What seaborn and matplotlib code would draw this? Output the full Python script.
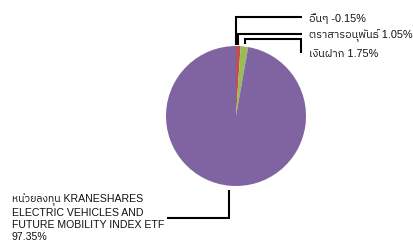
import numpy as np
import matplotlib
matplotlib.use("Agg")
import matplotlib.pyplot as plt
import seaborn as sns

# Data
labels = ["อื่นๆ", "ตราสารอนุพันธ์", "เงินฝาก",
          "หน่วยลงทุน KRANESHARES\nELECTRIC VEHICLES AND\nFUTURE MOBILITY INDEX ETF"]
values = [-0.15, 1.05, 1.75, 97.35]
colors = ["#4F81BD", "#C0504D", "#9BBB59", "#8064A2"]

sns.set_theme(style="white")
plt.rcParams["font.family"] = ["Liberation Sans", "IBM Plex Sans Thai", "DejaVu Sans"]

# px scale: pie radius = 70 px, centre at (236, 116)
W, H = 413, 246
R = 70.0
cx, cy = 236, 116

fig = plt.figure(figsize=(W / 100, H / 100), dpi=100)
ax = fig.add_axes([0, 0, 1, 1])

draw_vals = [max(v, 0) for v in values]
wedges, _ = ax.pie(draw_vals, colors=colors, startangle=90, counterclock=False,
                   radius=1, center=(0, 0),
                   wedgeprops=dict(linewidth=0))

ax.set_xlim(-cx / R, (W - cx) / R)
ax.set_ylim(-(H - cy) / R, cy / R)
ax.set_aspect("equal")
ax.axis("off")


def py(p):
    return (cy - p) / R


def px(p):
    return (p - cx) / R


# layout of leader lines: (start radius, elbow y, end x, text y)
layout = [
    (1.02, py(16.7), px(302), py(16.7)),
    (1.02, py(34.3), px(302), py(34.3)),
    (1.03, py(38.5), px(301), py(52.5)),
    (1.06, py(218.3), px(167), py(218.3)),
]

for i, (w, lab, v) in enumerate(zip(wedges, labels, values)):
    mid = np.deg2rad((w.theta1 + w.theta2) / 2)
    r0, ey, ex, ty = layout[i]
    x0, y0 = r0 * np.cos(mid), r0 * np.sin(mid)
    xs = [x0, x0, ex]
    ys = [y0, ey, ey]
    if ty != ey:
        xs.append(ex)
        ys.append(ty)
    ax.plot(xs, ys, color="black", lw=1.5, solid_capstyle="butt",
            solid_joinstyle="miter")
    if i < 3:
        ax.text(px(309), ty - 1.5 / R, f"{lab} {v:.2f}%", ha="left", va="center",
                fontsize=7.8, color="#111111")
    else:
        ax.text(px(12), py(217.5), f"{lab}\n{v:.2f}%", ha="left", va="center",
                fontsize=7.6, linespacing=1.22, color="#111111")

fig.savefig("out.png", dpi=100)
